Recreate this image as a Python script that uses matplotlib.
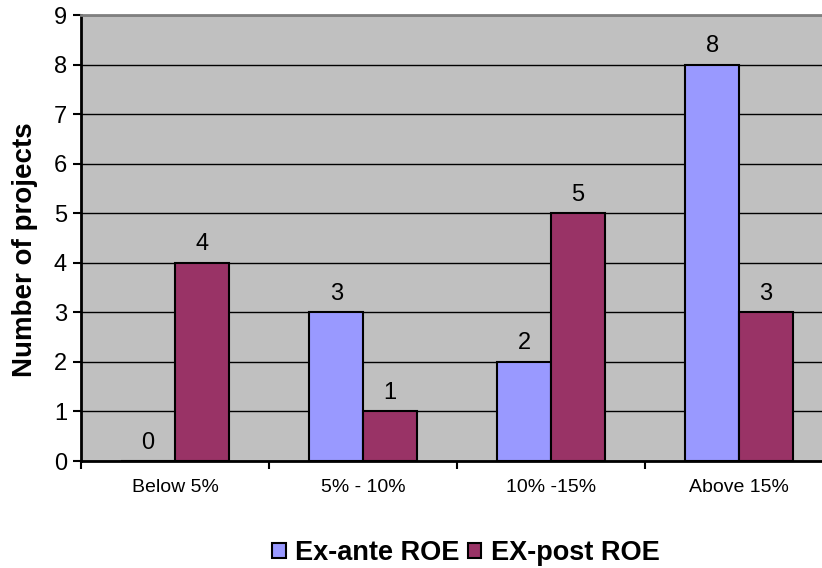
import numpy as np
import matplotlib
matplotlib.use("Agg")
import matplotlib.pyplot as plt

plt.rcParams['font.family'] = ['Liberation Sans', 'DejaVu Sans']

categories = ["Below 5%", "5% - 10%", "10% -15%", "Above 15%"]
ex_ante = [0, 3, 2, 8]
ex_post = [4, 1, 5, 3]
series_names = ["Ex-ante ROE", "EX-post ROE"]
colors = ["#9999FF", "#993366"]

fig = plt.figure(figsize=(8.22, 5.68), dpi=100)
# plot area runs a bit past the right edge of the figure
ax = fig.add_axes([81 / 822, 1 - 461 / 568, 752 / 822, 446 / 568])
ax.set_facecolor("#C0C0C0")

x = np.arange(len(categories))
w = 1 / 3.5
b1 = ax.bar(x - w / 2, ex_ante, w, color=colors[0], edgecolor="black",
            linewidth=1.5, label=series_names[0], zorder=3)
b2 = ax.bar(x + w / 2, ex_post, w, color=colors[1], edgecolor="black",
            linewidth=1.5, label=series_names[1], zorder=3)

for bars, vals in ((b1, ex_ante), (b2, ex_post)):
    for r, v in zip(bars, vals):
        ax.text(r.get_x() + r.get_width() / 2, v + 0.15, str(v),
                ha="center", va="bottom", fontsize=17)

ax.set_xlim(-0.5, 3.5)
ax.set_ylim(0, 9)
ax.set_yticks(range(10))
ax.yaxis.grid(True, color="black", linewidth=1)
ax.set_axisbelow(True)

# category ticks sit between the groups, labels at the centres
ax.set_xticks(np.arange(-0.5, 4, 1))
ax.set_xticklabels([])
ax.set_xticks(x, minor=True)
ax.set_xticklabels(categories, minor=True, fontsize=14)
ax.tick_params(axis="x", which="minor", length=0, pad=13)
ax.tick_params(axis="x", which="major", length=6, width=1.5, direction="out")
ax.tick_params(axis="y", length=6, width=1.5, labelsize=17, pad=4)

for s in ("left", "bottom"):
    ax.spines[s].set_linewidth(2)
ax.spines["top"].set_color("#808080")
ax.spines["top"].set_linewidth(2)
ax.spines["right"].set_visible(False)

ax.set_ylabel("Number of projects", fontsize=20, fontweight="bold")
ax.yaxis.set_label_coords(-0.057, 0.473)

fig.legend(handles=[b1, b2], loc="center", bbox_to_anchor=(466 / 822, 1 - 553 / 568),
           ncol=2, frameon=False, prop={"weight": "bold", "size": 19.5},
           handlelength=0.5, handleheight=0.5, handletextpad=0.35, columnspacing=0.3)

fig.savefig("out.png", dpi=100)
